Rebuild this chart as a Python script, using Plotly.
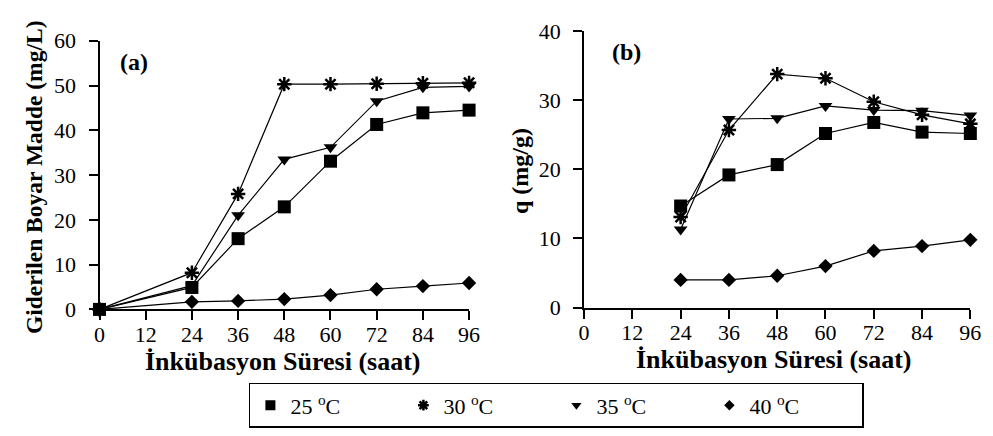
import plotly.graph_objects as go

hours = [0, 24, 36, 48, 60, 72, 84, 96]
hours_b = [24, 36, 48, 60, 72, 84, 96]
x_ticks = [0, 12, 24, 36, 48, 60, 72, 84, 96]

series_names = ["25 <sup>o</sup>C", "30 <sup>o</sup>C", "35 <sup>o</sup>C", "40 <sup>o</sup>C"]
symbols = ["square", "asterisk-open", "triangle-down", "diamond"]
sizes = [13, 12, 12, 11]

# (a) Giderilen Boyar Madde (mg/L)
a_25 = [0, 4.9, 15.8, 22.9, 33.1, 41.3, 43.9, 44.5]
a_30 = [0, 8.2, 25.8, 50.3, 50.3, 50.4, 50.5, 50.6]
a_35 = [0, 5.3, 21.0, 33.5, 36.2, 46.5, 49.6, 49.8]
a_40 = [0, 1.7, 1.9, 2.3, 3.2, 4.5, 5.2, 5.9]

# (b) q (mg/g)
b_25 = [14.7, 19.2, 20.7, 25.2, 26.8, 25.4, 25.2]
b_30 = [13.1, 25.7, 33.8, 33.2, 29.8, 27.9, 26.6]
b_35 = [11.3, 27.3, 27.4, 29.2, 28.6, 28.5, 27.8]
b_40 = [4.0, 4.0, 4.6, 6.0, 8.2, 8.9, 9.8]

data_a = [a_25, a_30, a_35, a_40]
data_b = [b_25, b_30, b_35, b_40]

FONT = "Liberation Serif, Times New Roman, Times, serif"
fig = go.Figure()

def marker(i, small=False):
    sym = symbols[i]
    s = sizes[i] - (3 if small else 0)
    return dict(symbol=sym, size=s, color="black",
                line=dict(color="black", width=2.5 if "asterisk" in sym else 0))

for i in range(4):
    fig.add_trace(go.Scatter(x=hours, y=data_a[i], mode="lines+markers", name=series_names[i],
                             line=dict(color="black", width=1.2), marker=marker(i), cliponaxis=False,
                             xaxis="x", yaxis="y", showlegend=False))
for i in range(4):
    fig.add_trace(go.Scatter(x=hours_b, y=data_b[i], mode="lines+markers", name=series_names[i],
                             line=dict(color="black", width=1.2), marker=marker(i), cliponaxis=False,
                             xaxis="x2", yaxis="y2", showlegend=False))
# legend-only entries (marker only)
for i in range(4):
    fig.add_trace(go.Scatter(x=[None], y=[None], mode="markers", name=series_names[i],
                             marker=marker(i, small=True), xaxis="x2", yaxis="y2", showlegend=True))

W, H = 993, 436
def fx(px):
    return px / W
def fy(py):
    return (H - py) / H

axis_common = dict(showline=True, linecolor="black", linewidth=2, ticks="outside",
                   ticklen=9, tickwidth=2, tickcolor="black", showgrid=False, zeroline=False,
                   tickfont=dict(family=FONT, size=22, color="black"), mirror=False)
xaxis_common = dict(ticklabelstandoff=-5, **axis_common)
yaxis_common = dict(ticklabelstandoff=8, **axis_common)

def txt(text, x, y, size, angle=0):
    return dict(text=text, x=fx(x), y=fy(y), xref="paper", yref="paper", xanchor="center",
                yanchor="middle", showarrow=False, textangle=angle,
                font=dict(family=FONT, size=size, color="black"))

fig.update_layout(
    width=W, height=H, margin=dict(l=0, r=0, t=0, b=0),
    paper_bgcolor="white", plot_bgcolor="white",
    xaxis=dict(domain=[fx(87), fx(463)], range=[0, 96], tickvals=x_ticks, anchor="y", **xaxis_common),
    yaxis=dict(domain=[fy(307), fy(22)], range=[0, 60], tickvals=[0, 10, 20, 30, 40, 50, 60],
               anchor="x", **yaxis_common),
    xaxis2=dict(domain=[fx(580), fx(973)], range=[0, 96], tickvals=x_ticks, anchor="y2", **xaxis_common),
    yaxis2=dict(domain=[fy(305), fy(12)], range=[0, 40], tickvals=[0, 10, 20, 30, 40],
                anchor="x2", **yaxis_common),
    legend=dict(orientation="h", x=fx(239), y=fy(385), xanchor="left", yanchor="top",
                bordercolor="black", borderwidth=1.5, bgcolor="white",
                font=dict(family=FONT, size=22, color="black"),
                entrywidth=108, entrywidthmode="pixels", tracegroupgap=0, itemwidth=30),
    annotations=[
        txt("<b>(a)</b>", 122, 45, 24),
        txt("<b>(b)</b>", 623, 34, 24),
        txt("<b>İnkübasyon Süresi (saat)</b>", 274, 362, 26),
        txt("<b>İnkübasyon Süresi (saat)</b>", 773, 360, 26),
        txt("<b>Giderilen Boyar Madde (mg/L)</b>", 21, 167, 23.5, -90),
        txt("<b>q (mg/g)</b>", 515, 160, 24, -90),
    ],
)

fig.write_html("out.html")
